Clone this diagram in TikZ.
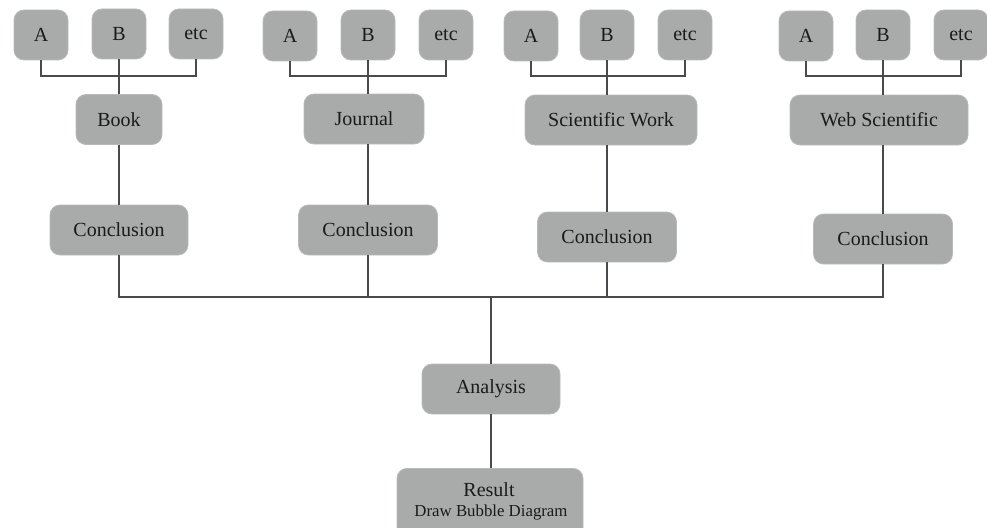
\documentclass[tikz,border=0pt]{standalone}
\usepackage{fontspec}
\setmainfont{Liberation Serif}
\definecolor{boxfill}{HTML}{A9ABAB}
\definecolor{boxedge}{HTML}{B8BABA}
\definecolor{wire}{HTML}{4A4A4E}
\definecolor{ink}{HTML}{1A1A1A}
\tikzset{
  box/.style={rounded corners=10pt, fill=boxfill, draw=boxedge, line width=0.8pt,
    text=ink, font=\fontsize{20}{20}\selectfont, inner sep=0pt},
  leaf/.style={box, minimum width=54pt, minimum height=50pt},
  mid/.style={box, minimum height=50pt},
  wireline/.style={draw=wire, line width=1.8pt},
}
\begin{document}
\begin{tikzpicture}[x=1pt, y=-1pt]
\useasboundingbox (0,0) rectangle (987,527);

% branch levels
\coordinate (bar) at (0,76);
\coordinate (bot) at (0,297);

% Book branch
\node[leaf] (a1) at (41,35) {A};
\node[leaf] (b1) at (119,34) {B};
\node[leaf] (e1) at (196,34) {etc};
\node[mid, minimum width=86pt] (book) at (119,119.5) {Book};
\node[mid, minimum width=138pt] (c1) at (119,230) {Conclusion};

% Journal branch
\node[leaf] (a2) at (290,36) {A};
\node[leaf] (b2) at (368,35) {B};
\node[leaf] (e2) at (446,35) {etc};
\node[mid, minimum width=120pt] (journal) at (364,119) {Journal};
\node[mid, minimum width=139pt] (c2) at (368,230) {Conclusion};

% Scientific Work branch
\node[leaf] (a3) at (531,36) {A};
\node[leaf] (b3) at (607,35) {B};
\node[leaf] (e3) at (685,35) {etc};
\node[mid, minimum width=172pt] (work) at (611,120) {Scientific Work};
\node[mid, minimum width=139pt] (c3) at (607,237) {Conclusion};

% Web Scientific branch
\node[leaf] (a4) at (806,36) {A};
\node[leaf] (b4) at (883,35) {B};
\node[leaf] (e4) at (961,35) {etc};
\node[mid, minimum width=178pt] (web) at (879,120) {Web Scientific};
\node[mid, minimum width=139pt] (c4) at (883,239) {Conclusion};

% Analysis and result
\node[mid, minimum width=138pt] (analysis) at (491,389) {Analysis};
\node[box, minimum width=186pt, minimum height=75pt, anchor=north] (result) at (490,468) {};
\node[text=ink, font=\fontsize{20}{20}\selectfont, inner sep=0pt, anchor=base] (resT) at (489,496) {Result};
\node[text=ink, font=\fontsize{16.8}{16.8}\selectfont, inner sep=0pt, anchor=base] (resS) at (491,516) {Draw Bubble Diagram};

% connectors from the sources to each group box
\foreach \i/\m in {1/book,2/journal,3/work,4/web}{
  \draw[wireline] (a\i.south) -- (a\i.south |- bar) -- (e\i.south |- bar) -- (e\i.south);
  \draw[wireline] (b\i.south) -- (b\i.south |- \m.north);
  \draw[wireline] (\m.south -| c\i.north) -- (c\i.north);
}

% conclusions joined into the analysis
\draw[wireline] (c1.south) -- (c1.south |- bot) -- (c4.south |- bot) -- (c4.south);
\draw[wireline] (c2.south) -- (c2.south |- bot);
\draw[wireline] (c3.south) -- (c3.south |- bot);
\draw[wireline] (analysis.north |- bot) -- (analysis.north);
\draw[wireline] (analysis.south) -- (result.north -| analysis.south);
\end{tikzpicture}
\end{document}
